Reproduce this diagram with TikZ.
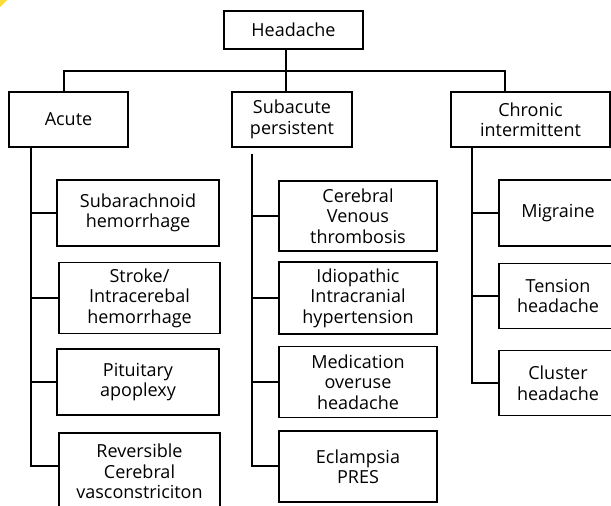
\documentclass[tikz,border=0pt]{standalone}
\usepackage{fontspec}
\setmainfont{Open Sans}
\begin{document}
\begin{tikzpicture}[x=1pt,y=-1pt,
  box/.style={draw, line width=1.2pt, align=center, inner sep=0pt,
    font=\fontsize{18}{20.5}\selectfont},
  conn/.style={line width=1.2pt}]
\useasboundingbox (0,0) rectangle (611,506);
\clip (0,0) rectangle (611,506);
\fill[yellow!70!orange!80] (0,0) -- (7,0) -- (0,7) -- cycle;
% top level
\node[box, minimum width=139pt, minimum height=38pt] (head) at (293.5,30) {Headache};
\node[box, minimum width=119pt, minimum height=55pt] (acute) at (68.5,119.5) {Acute};
\node[box, minimum width=120pt, minimum height=55pt] (sub) at (292,119.5) {Subacute\\persistent};
\node[box, minimum width=159pt, minimum height=55pt] (chr) at (530.5,119.5) {Chronic\\intermittent};
% acute children
\node[box, minimum width=162pt, minimum height=66pt] (a1) at (138,213) {Subarachnoid\\hemorrhage};
\node[box, minimum width=161pt, minimum height=71pt] (a2) at (139.5,298) {Stroke/\\Intracerebal\\hemorrhage};
\node[box, minimum width=162pt, minimum height=66pt] (a3) at (138,382) {Pituitary\\apoplexy};
\node[box, minimum width=161pt, minimum height=77pt] (a4) at (139.5,471.5) {Reversible\\Cerebral\\vasconstriciton};
% subacute children
\node[box, minimum width=158pt, minimum height=70pt] (s1) at (358,216) {Cerebral\\Venous\\thrombosis};
\node[box, minimum width=158pt, minimum height=72pt] (s2) at (358,298) {Idiopathic\\Intracranial\\hypertension};
\node[box, minimum width=158pt, minimum height=71pt] (s3) at (358,382) {Medication\\overuse\\headache};
\node[box, minimum width=158pt, minimum height=71pt] (s4) at (358,466.5) {Eclampsia\\PRES};
% chronic children
\node[box, minimum width=118pt, minimum height=66pt] (c1) at (558,213) {Migraine};
\node[box, minimum width=118pt, minimum height=65pt] (c2) at (558,296) {Tension\\headache};
\node[box, minimum width=118pt, minimum height=65pt] (c3) at (558,383) {Cluster\\headache};
% junctions
\coordinate (j0) at (286,71);
\coordinate (jl) at (64,71);
\coordinate (jr) at (505,71);
\coordinate (ta) at (31,466);
\coordinate (ts) at (252,466);
\coordinate (tc) at (472,383);
\draw[conn] (j0 |- head.south) -- (j0 |- sub.north);
\draw[conn] (jl |- acute.north) -- (jl) -- (jr) -- (jr |- chr.north);
% acute tree
\draw[conn] (ta |- acute.south) -- (ta) -- (ta -| a4.west);
\draw[conn] (ta |- a1.west) -- (a1.west);
\draw[conn] (ta |- a2.west) -- (a2.west);
\draw[conn] (ta |- a3.west) -- (a3.west);
% subacute tree
\draw[conn] ([yshift=-6pt]ts |- sub.south) -- (ts) -- (ts -| s4.west);
\draw[conn] (ts |- s1.west) -- (s1.west);
\draw[conn] (ts |- s2.west) -- (s2.west);
\draw[conn] (ts |- s3.west) -- (s3.west);
% chronic tree
\draw[conn] (tc |- chr.south) -- (tc) -- (tc -| c3.west);
\draw[conn] (tc |- c1.west) -- (c1.west);
\draw[conn] (tc |- c2.west) -- (c2.west);
\end{tikzpicture}
\end{document}
